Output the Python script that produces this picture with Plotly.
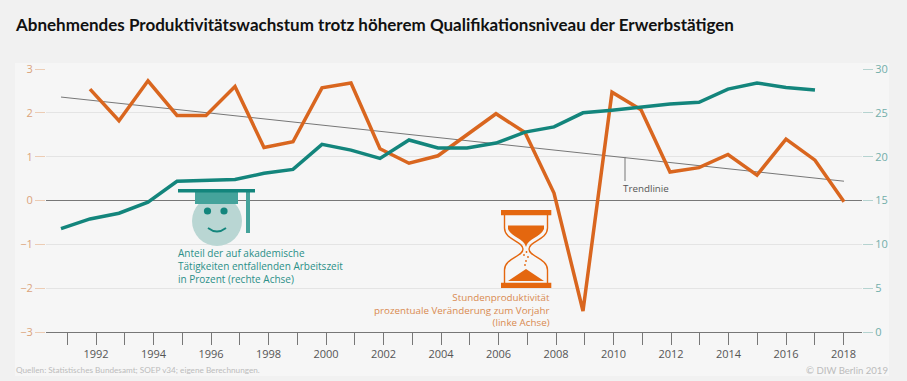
import plotly.graph_objects as go

# ---- data ----
years_prod = list(range(1992, 2019))
productivity = [2.54, 1.82, 2.73, 1.94, 1.94, 2.60, 1.21, 1.34, 2.57, 2.68, 1.18, 0.85, 1.02, 1.50,
                1.98, 1.55, 0.17, -2.52, 2.47, 2.07, 0.65, 0.75, 1.05, 0.58, 1.40, 0.92, -0.03]
years_share = list(range(1991, 2018))
academic_share = [11.8, 12.9, 13.55, 14.8, 17.2, 17.3, 17.4, 18.1, 18.55, 21.4, 20.75, 19.8, 21.9, 21.0,
                  21.0, 21.55, 22.8, 23.4, 25.0, 25.3, 25.7, 26.0, 26.2, 27.7, 28.4, 27.9, 27.6]
trend_years = [1991, 2018]
trend_values = [2.36, 0.44]
tick_years = list(range(1991, 2019))
tick_labels = [str(y) if y % 2 == 0 else "" for y in tick_years]

title = "Abnehmendes Produktivitätswachstum trotz höherem Qualifikationsniveau der Erwerbstätigen"
source = "Quellen: Statistisches Bundesamt; SOEP v34; eigene Berechnungen."
copyright_text = "© DIW Berlin 2019"
teal_label = "Anteil der auf akademische<br>Tätigkeiten entfallenden Arbeitszeit<br>in Prozent (rechte Achse)"
orange_label = "Stundenproduktivität<br>prozentuale Veränderung zum Vorjahr<br>(linke Achse)"

# ---- style ----
W, H = 907, 381
ML, MR, MT, MB = 46, 45, 69, 49
FONT = "Open Sans"
NARROW = "Lato"
ORANGE, TEAL, TEAL_MID, TEAL_PALE = "#d9661f", "#13857c", "#45a39b", "#b9d6d3"
ORANGE_ICON = "#e4670f"
GREY = "#777777"


def fx(p):
    return (p - ML) / (W - ML - MR)


def fy(p):
    return 1 - (p - MT) / (H - MT - MB)


def rect(x0, y0, x1, y1, color, layer="above"):
    return dict(type="rect", xref="paper", yref="paper", x0=fx(x0), x1=fx(x1), y0=fy(y0), y1=fy(y1),
                fillcolor=color, line_width=0, layer=layer)


def circle(cx, cy, r, color):
    return dict(type="circle", xref="paper", yref="paper", x0=fx(cx - r), x1=fx(cx + r), y0=fy(cy - r),
                y1=fy(cy + r), fillcolor=color, line_width=0, layer="above")


def path(points, fill=None, line=None, width=0):
    d = ""
    for seg in points:
        cmd, *c = seg
        d += cmd + " ".join(
            f"{fx(c[i]):.5f},{fy(c[i + 1]):.5f}" for i in range(0, len(c), 2)) + " "
    if fill:
        d += "Z"
    return dict(type="path", xref="paper", yref="paper", path=d, fillcolor=fill or "rgba(0,0,0,0)",
                line=dict(color=line or "rgba(0,0,0,0)", width=width), layer="above")


shapes = [
    rect(15, 63, 889, 376, "#f6f6f6", layer="below"),
    # Trendlinie leader
    dict(type="line", xref="paper", yref="paper", x0=fx(625), x1=fx(625), y0=fy(157), y1=fy(181),
         line=dict(color=GREY, width=1), layer="above"),
    # Graduate face
    circle(217, 221, 25, TEAL_PALE),
    rect(195, 192, 238, 204, TEAL_MID),
    rect(246, 192, 250, 233, TEAL_MID),
    rect(178, 189, 255, 192.5, TEAL),
    circle(207.5, 211, 3.6, TEAL),
    circle(224, 211, 3.6, TEAL),
    path([("M", 208, 228), ("Q", 217, 235, 226, 228)], line=TEAL, width=1.8),
    # Hourglass
    rect(501, 210, 551.3, 215.3, ORANGE_ICON),
    rect(501, 282.7, 551.3, 288, ORANGE_ICON),
    path([("M", 504.5, 215), ("L", 504.5, 228), ("C", 504.5, 240, 523, 241, 523, 249),
          ("C", 523, 257, 504.5, 258, 504.5, 270), ("L", 504.5, 283)], line=ORANGE_ICON, width=1.4),
    path([("M", 547.5, 215), ("L", 547.5, 228), ("C", 547.5, 240, 529, 241, 529, 249),
          ("C", 529, 257, 547.5, 258, 547.5, 270), ("L", 547.5, 283)], line=ORANGE_ICON, width=1.4),
    path([("M", 508, 225.5), ("L", 544, 225.5), ("L", 544, 229), ("C", 540, 238, 528, 238, 526, 247),
          ("C", 524, 238, 512, 238, 508, 229)], fill=ORANGE_ICON),
    path([("M", 508, 281), ("L", 526, 269), ("L", 544, 281)], fill=ORANGE_ICON),
]
for cx, cy in [(526.5, 252), (524, 255), (528, 257), (526, 261), (525, 265)]:
    shapes.append(circle(cx, cy, 0.9, ORANGE_ICON))

fig = go.Figure()
fig.add_trace(go.Scatter(x=trend_years, y=trend_values, mode="lines", line=dict(color=GREY, width=1),
                         showlegend=False))
fig.add_trace(go.Scatter(x=years_share, y=academic_share, mode="lines", yaxis="y2",
                         line=dict(color=TEAL, width=3.5), showlegend=False))
fig.add_trace(go.Scatter(x=years_prod, y=productivity, mode="lines",
                         line=dict(color=ORANGE, width=3.5), showlegend=False))
# invisible trace that keeps the year tick axis alive
fig.add_trace(go.Scatter(x=tick_years, y=[None] * len(tick_years), xaxis="x2", mode="lines",
                         showlegend=False, hoverinfo="skip"))


def note(text, px, py, color, size, align="left", anchor="left", family=FONT):
    return dict(text=text, xref="paper", yref="paper", x=fx(px), y=fy(py), xanchor=anchor, yanchor="middle",
                align=align, showarrow=False, font=dict(family=family, size=size, color=color))


fig.update_layout(
    width=W, height=H, autosize=False,
    margin=dict(l=ML, r=MR, t=MT, b=MB),
    paper_bgcolor="#f1f1f1", plot_bgcolor="rgba(0,0,0,0)",
    showlegend=False,
    title=dict(text=f"<b>{title}</b>", x=16 / W, xanchor="left", y=1 - 25 / H, yanchor="middle",
               font=dict(family=NARROW, size=17, color="#111111")),
    xaxis=dict(range=[1990.483, 2018.621], visible=False),
    xaxis2=dict(overlaying="x", anchor="y", side="bottom", range=[1990.261, 2018.643],
                tickmode="array", tickvals=tick_years, ticktext=tick_labels, ticks="outside", ticklen=12,
                tickcolor=GREY, tickwidth=1, showgrid=False, zeroline=False, showline=True, linecolor=GREY,
                linewidth=1, tickangle=0, tickfont=dict(family=FONT, size=11, color="#555555")),
    yaxis=dict(range=[-3, 3], tickvals=[-3, -2, -1, 0, 1, 2, 3], ticks="outside", ticklen=10,
               tickcolor="#ecccb4", gridcolor="#e4e4e4", gridwidth=1, zeroline=True, zerolinecolor=GREY,
               zerolinewidth=1, showline=False, tickfont=dict(family=FONT, size=11, color="#dba47c")),
    yaxis2=dict(overlaying="y", side="right", anchor="x", range=[0, 30], tickvals=[0, 5, 10, 15, 20, 25, 30],
                ticks="outside", ticklen=10, tickcolor="#b5d3d0", showgrid=False, zeroline=False,
                showline=False, tickfont=dict(family=FONT, size=11, color="#72aeaa")),
    shapes=shapes,
    annotations=[
        note("Trendlinie", 621, 188, "#555555", 9.8),
        note(teal_label, 176, 266, "#2b8f88", 10),
        note(orange_label, 552, 309.5, "#d98a50", 9.8, align="right", anchor="right"),
        note(source, 14, 370, "#bcbcbc", 8.2, family=NARROW),
        note(copyright_text, 890, 370, "#bcbcbc", 9.6, align="right", anchor="right", family=NARROW),
    ],
)

fig.write_html("out.html", config={"displayModeBar": False},
               post_script="document.body.style.margin='0';")
